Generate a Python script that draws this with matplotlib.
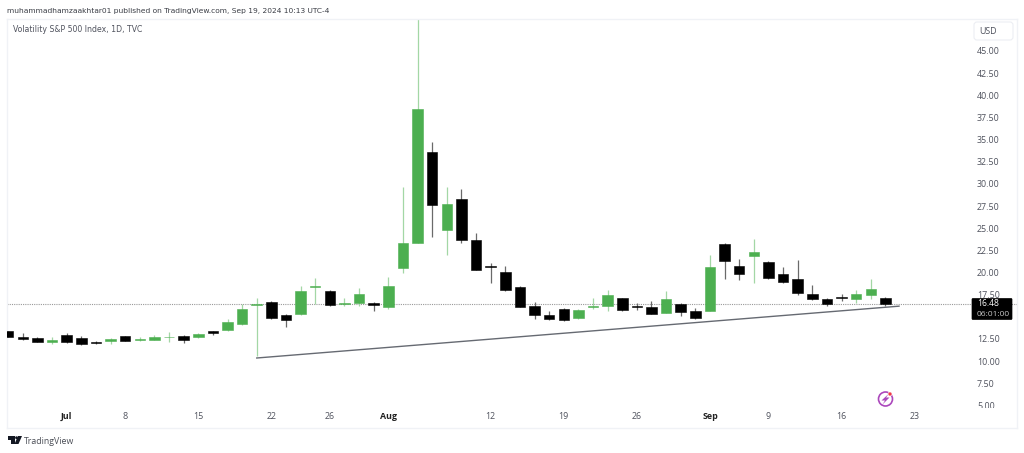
from matplotlib import pyplot as plt
from matplotlib.patches import Circle, FancyBboxPatch, Polygon, Rectangle
from matplotlib.transforms import Affine2D

# daily candles
opens = [13.43, 12.76, 12.65, 12.12, 12.95, 12.65, 12.11, 12.30, 12.80, 12.43,
         12.43, 12.72, 12.84, 12.69, 13.37, 13.51, 14.22, 16.34, 16.71, 15.17,
         15.32, 18.40, 17.92, 16.45, 16.53, 16.60, 16.11, 20.47, 23.33, 33.63,
         24.76, 28.30, 23.70, 20.73, 20.02, 18.36, 16.19, 15.23, 15.88, 14.83,
         16.14, 16.19, 17.09, 16.19, 16.14, 15.43, 16.45, 15.62, 15.65, 23.18,
         20.73, 21.90, 21.22, 19.83, 19.30, 17.54, 16.98, 17.20, 17.05, 17.50,
         17.16]
highs = [13.45, 13.21, 12.73, 12.69, 13.21, 12.80, 12.23, 12.58, 12.87, 12.69,
         12.91, 13.29, 12.91, 13.21, 13.43, 14.79, 16.45, 17.13, 16.82, 15.32,
         18.48, 19.42, 18.00, 17.16, 18.22, 16.71, 19.46, 29.62, 65.73, 34.76,
         29.68, 29.39, 24.49, 21.11, 20.73, 18.48, 16.67, 15.68, 15.99, 15.85,
         17.09, 17.99, 17.16, 16.53, 16.75, 17.88, 16.53, 15.96, 21.97, 23.29,
         21.52, 23.75, 21.33, 20.65, 21.41, 18.56, 17.09, 17.61, 18.03, 19.30,
         17.27]
lows = [12.70, 12.38, 12.13, 11.90, 12.08, 11.82, 11.90, 11.90, 12.23, 12.27,
        12.35, 12.19, 12.08, 12.61, 12.91, 13.43, 14.11, 10.58, 14.72, 13.89,
        15.17, 16.41, 16.26, 16.26, 16.26, 15.66, 15.92, 19.98, 23.33, 24.04,
        21.97, 23.30, 20.28, 18.85, 17.95, 16.11, 14.79, 14.67, 14.52, 14.80,
        15.92, 15.69, 15.62, 15.77, 15.32, 15.39, 15.12, 14.76, 15.65, 19.27,
        19.15, 18.78, 19.30, 18.85, 17.49, 16.87, 16.22, 16.79, 16.60, 17.05,
        16.22]
closes = [12.72, 12.46, 12.16, 12.38, 12.16, 11.97, 12.00, 12.46, 12.27, 12.50,
          12.76, 12.76, 12.35, 13.06, 13.14, 14.38, 15.85, 16.45, 14.83, 14.64,
          17.95, 18.48, 16.30, 16.53, 17.58, 16.30, 18.48, 23.36, 38.49, 27.65,
          27.76, 23.70, 20.28, 20.62, 18.02, 16.11, 15.17, 14.72, 14.59, 15.80,
          16.22, 17.46, 15.80, 16.08, 15.35, 17.01, 15.54, 14.90, 20.65, 21.30,
          19.80, 22.31, 19.34, 18.96, 17.65, 16.98, 16.48, 17.13, 17.54, 18.14,
          16.48]

# 15.00 sits behind the last price box in the reference, so it has no label
price_ticks = [5, 7.5, 10, 12.5, 17.5, 20, 22.5, 25, 27.5, 30, 32.5, 35, 37.5, 40, 42.5, 45]
date_pos = [4, 8, 13, 18, 22, 26, 33, 38, 43, 48, 52, 57, 62]
date_labels = ['Jul', '8', '15', '22', '26', 'Aug', '12', '19', '26', 'Sep', '9', '16', '23']
month_labels = ['Jul', 'Aug', 'Sep']

trend_x = [17, 60.93]
trend_y = [10.35, 16.2]
last_price = 16.48

GREEN = '#4caf50'
GREEN_WICK = '#a3d7a5'
BLACK_WICK = '#6a6a6a'
TEXT = '#50535e'
BORDER = '#f0f2f6'

plt.rcParams['font.family'] = ['Open Sans', 'DejaVu Sans']

fig = plt.figure(figsize=(10.24, 4.53), dpi=100)
ax = fig.add_axes([7 / 1024, (453 - 428) / 453, 1010 / 1024, 409 / 453])

# draw the candles
for i in range(len(opens)):
    up = closes[i] >= opens[i]
    ax.vlines(i, lows[i], highs[i], color=GREEN_WICK if up else BLACK_WICK, linewidth=0.9, zorder=2)
    bottom = min(opens[i], closes[i])
    height = abs(closes[i] - opens[i])
    ax.bar(i, height, bottom=bottom, width=0.72, color=GREEN if up else 'black',
           edgecolor=GREEN if up else 'black', linewidth=0.4, zorder=3)

ax.axhline(last_price, color='#9a9a9a', linewidth=0.8, linestyle=(0, (1, 1)), zorder=1)
ax.plot(trend_x, trend_y, color='#666a72', linewidth=1.0, zorder=4)

ax.set_xlim(-0.082, 69)
ax.set_ylim(2.45, 48.61)

ax.yaxis.tick_right()
ax.set_yticks(price_ticks)
ax.set_yticklabels(['%.2f' % p for p in price_ticks])
ax.tick_params(axis='y', length=0, pad=-28.8, labelsize=6.4, labelcolor=TEXT)
ax.set_xticks(date_pos)
ax.set_xticklabels(date_labels)
ax.tick_params(axis='x', length=0, pad=-11.5, labelsize=6.4, labelcolor=TEXT)
for label in ax.get_xticklabels():
    if label.get_text() in month_labels:
        label.set_fontweight('bold')
        label.set_color('#222222')

for spine in ax.spines.values():
    spine.set_color(BORDER)
    spine.set_linewidth(1)

# everything else sits in image pixels, y going down
px = Affine2D().scale(1, -1).translate(0, 453)

# hides the clipped bottom of the 5.00 label
ax.add_patch(Rectangle((975, 408), 30, 6, transform=px, facecolor='white', edgecolor='none', zorder=10, clip_on=False))

# last price box
ax.add_patch(FancyBboxPatch((972, 298.5), 40, 21, boxstyle='round,pad=0,rounding_size=1', transform=px,
                            facecolor='black', edgecolor='black', linewidth=0.5, zorder=10, clip_on=False))
ax.text(977, 303.5, '16.48', transform=px, color='white', fontsize=6.2, va='center', ha='left', zorder=11, clip_on=False)
ax.text(977, 314.5, '06:01:00', transform=px, color='#c8c8c8', fontsize=6.0, va='center', ha='left', zorder=11, clip_on=False)

# USD box
ax.add_patch(FancyBboxPatch((974, 22), 39, 18, boxstyle='round,pad=0,rounding_size=3', transform=px,
                            facecolor='white', edgecolor='#eceef3', linewidth=0.8, zorder=10, clip_on=False))
ax.text(979, 31, 'USD', transform=px, color=TEXT, fontsize=6.4, va='center', ha='left', zorder=11, clip_on=False)

# header texts
ax.text(7, 10.5, 'muhammadhamzaakhtar01 published on TradingView.com, Sep 19, 2024 10:13 UTC-4', transform=px,
        color='#3a3d45', fontsize=5.4, va='center', ha='left', clip_on=False, family=['DejaVu Sans'])
ax.text(13, 30, 'Volatility S&P 500 Index, 1D, TVC', transform=px, color='#50535e', fontsize=5.55,
        va='center', ha='left', clip_on=False, family=['DejaVu Sans'])

# lightning badge
ax.add_patch(Circle((885.5, 399), 7, transform=px, facecolor='white', edgecolor='#ab47bc', linewidth=1.2, zorder=10, clip_on=False))
ax.add_patch(Polygon([(889, 393.5), (881.5, 400.5), (885, 400.5), (882.5, 404.5), (889.5, 397.5), (886, 397.5)], transform=px,
                     facecolor='#ab47bc', edgecolor='none', zorder=11, clip_on=False))
ax.add_patch(Circle((890, 394), 2, transform=px, facecolor='#f23645', edgecolor='white', linewidth=0.4, zorder=12, clip_on=False))

# TradingView logo
ax.add_patch(Polygon([(8, 436), (15, 436), (15, 444), (11, 444), (11, 439.5), (8, 439.5)], transform=px,
                     facecolor='#131722', edgecolor='none', clip_on=False))
ax.add_patch(Circle((16.5, 437.7), 1.4, transform=px, facecolor='#131722', edgecolor='none', clip_on=False))
ax.add_patch(Polygon([(18, 436), (22, 436), (18.5, 444), (14.5, 444)], transform=px,
                     facecolor='#131722', edgecolor='none', clip_on=False))
ax.text(24, 441, 'TradingView', transform=px, color='#4a4d55', fontsize=6.3, va='center', ha='left', clip_on=False)

fig.savefig('out.png', dpi=100)
